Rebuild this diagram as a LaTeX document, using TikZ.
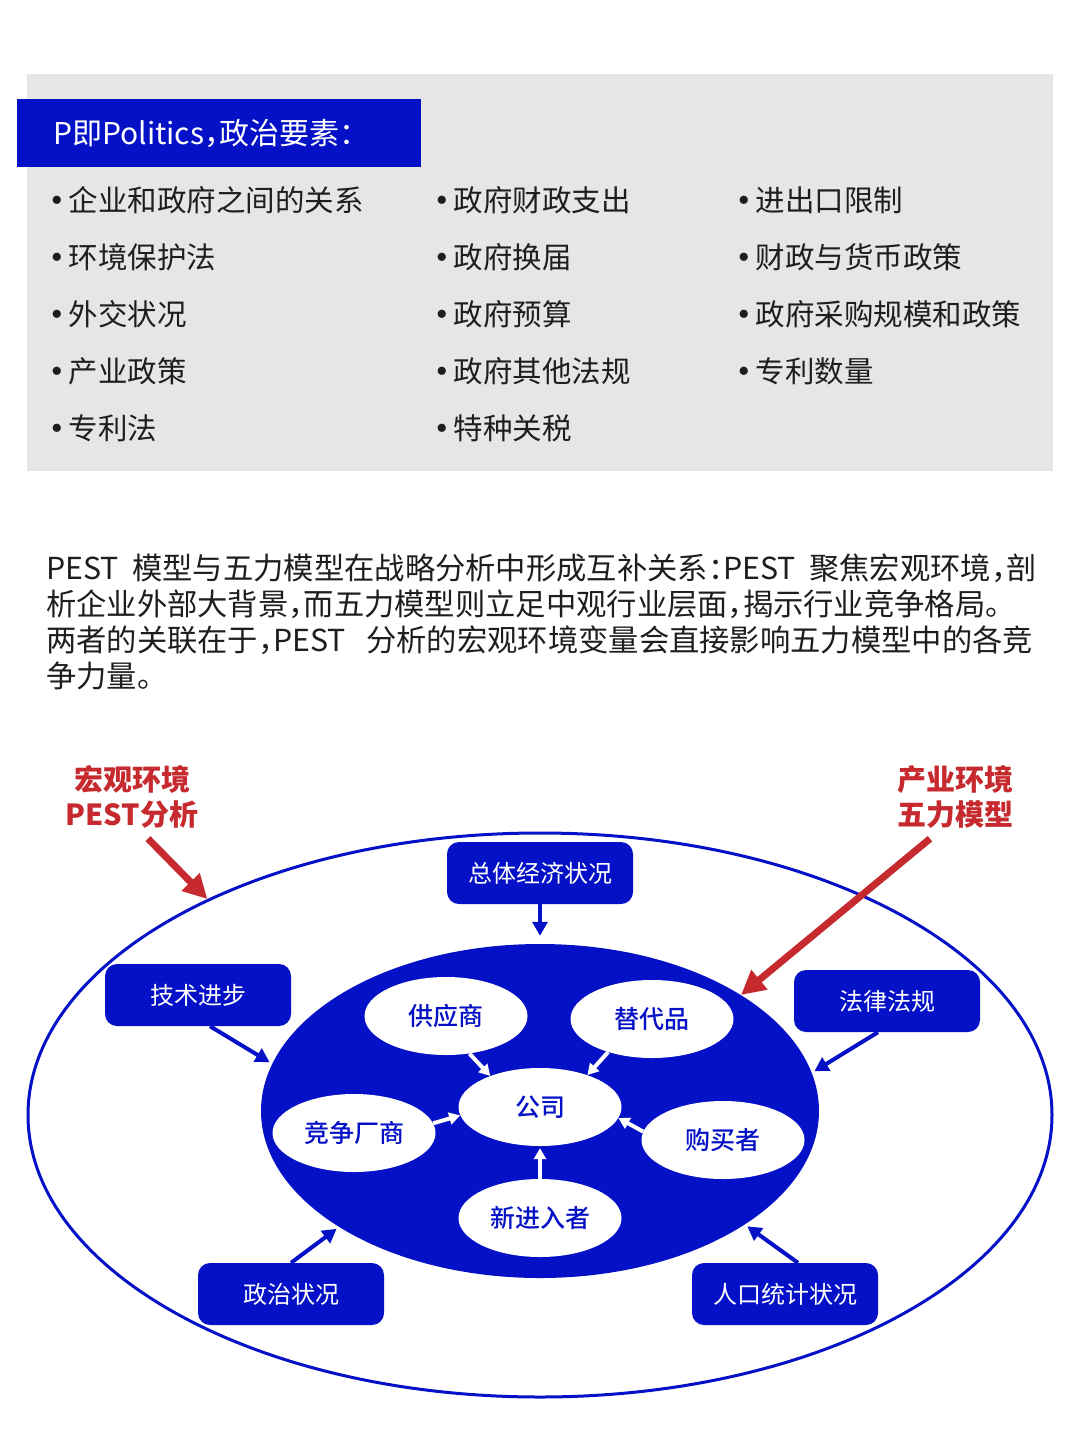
\documentclass[tikz,border=0pt]{standalone}
\usepackage{fontspec}
\setmainfont{Noto Sans CJK SC}[RawFeature=+halt]
\newfontfamily\medfont{Noto Sans CJK SC Medium}
\usepackage{tikz}
\usetikzlibrary{arrows.meta,calc,positioning,shapes.geometric}
\definecolor{deep}{HTML}{0511C6}
\definecolor{panel}{HTML}{E6E6E6}
\definecolor{warn}{HTML}{C62A2F}
\definecolor{body}{HTML}{1E1E1E}
\newcommand{\dotitem}{{\bfseries •}\hspace{4pt}}

\begin{document}
\begin{tikzpicture}[x=1pt,y=-1pt,>=Stealth,
  item/.style={anchor=west,inner sep=0pt,text=body,font=\fontsize{29.5}{34}\selectfont},
  para/.style={anchor=west,inner sep=0pt,text=body,font=\fontsize{30.3}{36}\selectfont},
  factor/.style={rectangle,rounded corners=12pt,fill=deep,text=white,minimum width=186pt,minimum height=62pt,inner sep=0pt,font=\fontsize{24}{28}\selectfont},
  force/.style={ellipse,fill=white,text=deep,minimum width=163pt,minimum height=78pt,inner sep=0pt,font=\fontsize{25}{30}\medfont},
  tag/.style={text=warn,align=center,inner sep=0pt,font=\fontsize{29}{35}\selectfont\bfseries},
  blarr/.style={-{Triangle[length=14pt,width=15pt]},draw=deep,line width=4pt},
  warr/.style={-{Triangle[length=11pt,width=12pt]},draw=white,line width=4pt},
  rarr/.style={-{Triangle[length=24pt,width=24pt]},draw=warn,line width=7pt}]
\useasboundingbox (0,0) rectangle (1080,1444);
\fill[white] (0,0) rectangle (1080,1444);

% politics panel
\fill[panel] (27,74) rectangle (1053,471);
\node[fill=deep,minimum width=404pt,minimum height=68pt,inner sep=0pt] (head) at (219,133) {};
\node[anchor=west,inner sep=0pt,text=white,font=\fontsize{30}{34}\selectfont] (headtxt) at (53,133) {P即Politics，政治要素：};

\node[item] (a1) at (50,200) {\dotitem 企业和政府之间的关系};
\node[item] (a2) at (50,257) {\dotitem 环境保护法};
\node[item] (a3) at (50,314) {\dotitem 外交状况};
\node[item] (a4) at (50,371) {\dotitem 产业政策};
\node[item] (a5) at (50,428) {\dotitem 专利法};
\node[item] (b1) at (435,200) {\dotitem 政府财政支出};
\node[item] (b2) at (435,257) {\dotitem 政府换届};
\node[item] (b3) at (435,314) {\dotitem 政府预算};
\node[item] (b4) at (435,371) {\dotitem 政府其他法规};
\node[item] (b5) at (435,428) {\dotitem 特种关税};
\node[item] (c1) at (737,200) {\dotitem 进出口限制};
\node[item] (c2) at (737,257) {\dotitem 财政与货币政策};
\node[item] (c3) at (737,314) {\dotitem 政府采购规模和政策};
\node[item] (c4) at (737,371) {\dotitem 专利数量};

% text
\node[para] (l1) at (46,568) {PEST\ \ 模型与五力模型在战略分析中形成互补关系：PEST\ \ 聚焦宏观环境，剖};
\node[para] (l2) at (46,604) {析企业外部大背景，而五力模型则立足中观行业层面，揭示行业竞争格局。};
\node[para] (l3) at (46,640) {两者的关联在于，PEST\ \ \ 分析的宏观环境变量会直接影响五力模型中的各竞};
\node[para] (l4) at (46,676) {争力量。};

% PEST and five forces
\node[ellipse,draw=deep,line width=3pt,minimum width=1024pt,minimum height=564pt] (outer) at (540,1115) {};
\node[ellipse,fill=deep,minimum width=558pt,minimum height=334pt] (inner) at (540,1111) {};

\node[force] (sup) at (446,1016) {供应商};
\node[force] (sub) at (652,1019) {替代品};
\node[force] (firm) at (540,1107) {公司};
\node[force] (comp) at (354,1133) {竞争厂商};
\node[force] (buy) at (723,1140) {购买者};
\node[force] (new) at (540,1218) {新进入者};

\node[factor] (econ) at (540,873) {总体经济状况};
\node[factor] (tech) at (198,995) {技术进步};
\node[factor] (law) at (887,1001) {法律法规};
\node[factor] (politic) at (291,1294) {政治状况};
\node[factor] (demo) at (785,1294) {人口统计状况};

\node[tag] (pestlab) at (132,797) {宏观环境\\PEST分析};
\node[tag] (forcelab) at (955,797) {产业环境\\五力模型};

\draw[warr] (sup.-58) -- (firm.148);
\draw[warr] (sub.217) -- (firm.34);
\draw[warr] (comp.7) -- (firm.186);
\draw[warr] (buy.174) -- (firm.-8);
\draw[warr,shorten >=2pt] (new.north) -- (firm.south);

\draw[blarr,shorten >=8pt] (econ.south) -- (inner.north);
\draw[blarr,shorten >=3pt] ($(tech.south)+(12,0)$) -- (inner.170);
\draw[blarr,shorten >=3pt] ($(law.south)+(-9,0)$) -- (inner.8);
\draw[blarr,shorten >=3pt] (politic.north) -- (inner.210);
\draw[blarr,shorten >=3pt] ($(demo.north)+(13,0)$) -- (inner.-29);

\draw[rarr] ($(pestlab.south)+(16,10)$) -- (outer.147);
\draw[rarr] ($(forcelab.south)+(-25,10)$) -- (inner.30);
\end{tikzpicture}
\end{document}
